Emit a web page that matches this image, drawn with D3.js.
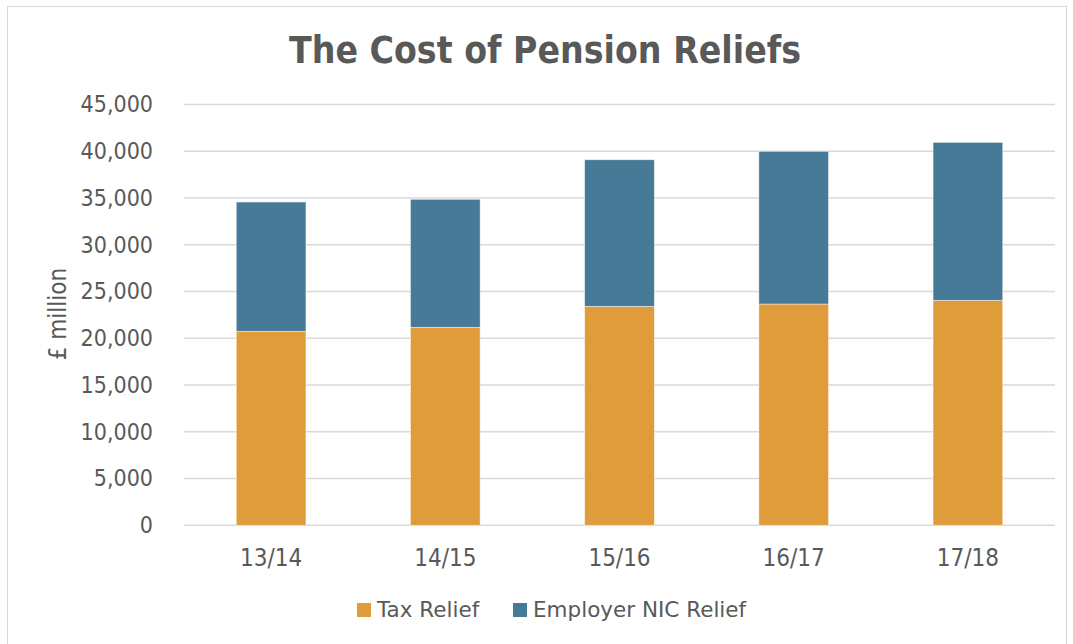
<!DOCTYPE html>
<html>
<head>
<meta charset="utf-8">
<script src="https://cdn.jsdelivr.net/npm/d3@7"></script>
<style>
  body { margin: 0; background: #ffffff; }
  text { font-family: Tahoma, "DejaVu Sans Condensed", "DejaVu Sans", sans-serif; font-stretch: condensed; }
</style>
</head>
<body>
<div id="chart"></div>
<script>
// Stacked bars: cost of pension reliefs, £ million

var years = ["13/14", "14/15", "15/16", "16/17", "17/18"];
var taxRelief = [20750, 21180, 23420, 23670, 24060];
var employerNic = [13830, 13690, 15680, 16330, 16900];
var seriesNames = ["Tax Relief", "Employer NIC Relief"];
var seriesColors = ["#e09b3a", "#467a97"];
var yTicks = [0, 5000, 10000, 15000, 20000, 25000, 30000, 35000, 40000, 45000];

(function() {

    var width = 1073;
    var height = 644;
    var font = "Tahoma, 'DejaVu Sans Condensed', 'DejaVu Sans', sans-serif";

    var svg = d3.select("#chart")
        .append("svg")
        .attr("width", width)
        .attr("height", height);

    // chart frame
    svg.append("rect")
        .attr("x", 7.5)
        .attr("y", 6.5)
        .attr("width", 1059)
        .attr("height", 640)
        .attr("fill", "#ffffff")
        .attr("stroke", "#d9d9d9")
        .attr("stroke-width", 1);

    var plot = { left: 184, right: 1055, top: 104.6, bottom: 525.3 };

    var xScale = d3.scaleBand()
        .domain(years)
        .range([plot.left, plot.right])
        .padding(0);

    var barWidth = xScale.bandwidth() * 0.4;

    var yScale = d3.scaleLinear()
        .domain([0, 45000])
        .range([plot.bottom, plot.top]);

    // stack the two series
    var rows = years.map(function(y, i) {
        return { year: y, "Tax Relief": taxRelief[i], "Employer NIC Relief": employerNic[i] };
    });
    var stacked = d3.stack().keys(seriesNames)(rows);

    // gridlines
    svg.selectAll(".grid")
        .data(yTicks)
        .enter()
        .append("line")
        .attr("x1", plot.left)
        .attr("x2", plot.right)
        .attr("y1", function(d) { return yScale(d); })
        .attr("y2", function(d) { return yScale(d); })
        .attr("stroke", "#d9d9d9")
        .attr("stroke-width", 1.5);

    // y axis labels
    var yAxis = d3.axisLeft(yScale)
        .tickValues(yTicks)
        .tickFormat(d3.format(","))
        .tickSize(0)
        .tickPadding(0);

    var yG = svg.append("g")
        .attr("transform", "translate(153,0)")
        .call(yAxis);
    yG.select(".domain").remove();
    yG.selectAll("text")
        .attr("fill", "#595959")
        .attr("font-size", "23px")
        .style("font-family", font);

    // bars
    svg.selectAll(".series")
        .data(stacked)
        .enter()
        .append("g")
        .attr("fill", function(d, i) { return seriesColors[i]; })
        .selectAll("rect")
        .data(function(d) { return d; })
        .enter()
        .append("rect")
        .attr("x", function(d) { return xScale(d.data.year) + (xScale.bandwidth() - barWidth) / 2; })
        .attr("width", barWidth)
        .attr("y", function(d) { return yScale(d[1]); })
        .attr("height", function(d) { return yScale(d[0]) - yScale(d[1]); })
        .attr("stroke", "#ffffff")
        .attr("stroke-opacity", 0.6)
        .attr("stroke-width", 0.75);

    // x axis labels
    var xAxis = d3.axisBottom(xScale).tickSize(0).tickPadding(0);
    var xG = svg.append("g")
        .attr("transform", "translate(0," + (plot.bottom + 24) + ")")
        .call(xAxis);
    xG.select(".domain").remove();
    xG.selectAll("text")
        .attr("fill", "#595959")
        .attr("font-size", "24px")
        .style("font-family", font);

    // title
    svg.append("text")
        .attr("x", 545)
        .attr("y", 63)
        .attr("text-anchor", "middle")
        .attr("fill", "#595959")
        .attr("font-size", "37px")
        .attr("font-weight", "bold")
        .text("The Cost of Pension Reliefs");

    // y axis title
    svg.append("text")
        .attr("transform", "translate(58,314) rotate(-90)")
        .attr("text-anchor", "middle")
        .attr("dy", "0.35em")
        .attr("fill", "#595959")
        .attr("font-size", "24px")
        .text("£ million");

    // legend
    var legendX = [357, 513];
    var legend = svg.selectAll(".legend")
        .data(seriesNames)
        .enter()
        .append("g")
        .attr("transform", function(d, i) { return "translate(" + legendX[i] + ",603)"; });

    legend.append("rect")
        .attr("width", 14)
        .attr("height", 14)
        .attr("fill", function(d, i) { return seriesColors[i]; });

    legend.append("text")
        .attr("x", 20)
        .attr("y", 14)
        .attr("fill", "#595959")
        .attr("font-size", "21.5px")
        .style("font-family", "Tahoma, 'DejaVu Sans', sans-serif")
        .style("font-stretch", "normal")
        .text(function(d) { return d; });

})();
</script>
</body>
</html>
